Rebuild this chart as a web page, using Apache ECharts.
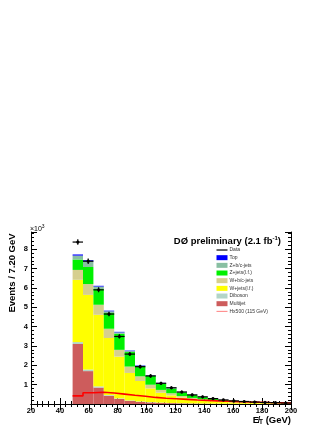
<!DOCTYPE html>
<html>
<head>
<meta charset="utf-8">
<script src="https://cdn.jsdelivr.net/npm/echarts@6/dist/echarts.min.js"></script>
<style>
html, body { margin: 0; padding: 0; background: #fff; }
#main { width: 332px; height: 430px; }
</style>
</head>
<body>
<div id="main"></div>
<script>
// bins: 21 bins of 7.20 GeV, last edge at 200
var binStart = 48.8;
var binWidth = 7.2;

// stacked backgrounds (events / bin), bottom to top
var multijet = [3100, 1700, 850, 420, 260, 160, 110, 80, 60, 45, 35, 26, 20, 15, 12, 9, 7, 5, 4, 3, 2];
var diboson  = [100, 80, 60, 40, 30, 25, 20, 17, 13, 10, 8, 6, 5, 4, 3, 3, 2, 2, 1, 1, 1];
var wjetsLF  = [3220, 3860, 3700, 2950, 2160, 1420, 1060, 710, 510, 390, 290, 220, 170, 130, 96, 76, 63, 51, 41, 33, 27];
var wjetsHF  = [510, 560, 520, 480, 350, 330, 240, 190, 145, 110, 80, 62, 48, 37, 28, 22, 18, 14, 12, 9, 8];
var zjetsLF  = [540, 880, 810, 810, 830, 750, 510, 450, 330, 250, 190, 150, 115, 87, 66, 53, 44, 35, 28, 22, 19];
var zjetsHF  = [200, 300, 130, 90, 70, 50, 40, 30, 22, 17, 13, 10, 8, 6, 5, 4, 3, 3, 2, 2, 2];
var topQuark = [60, 50, 40, 35, 30, 25, 20, 15, 12, 10, 8, 6, 5, 4, 3, 3, 2, 2, 2, 1, 1];

var dataPts  = [8370, 7380, 5900, 4650, 3490, 2580, 1930, 1450, 1070, 840, 620, 470, 370, 280, 210, 160, 130, 100, 80, 70, 50];
var signal   = [420, 580, 610, 570, 510, 450, 400, 340, 300, 270, 240, 210, 185, 160, 140, 120, 100, 90, 75, 65, 55];

var yTicks = [1, 2, 3, 4, 5, 6, 7, 8]; // x10^3

var layers = [
	{name: 'Multijet', values: multijet, color: '#cd5c5c'},
	{name: 'Diboson', values: diboson, color: '#b3d5c8'},
	{name: 'W+jets(l.f.)', values: wjetsLF, color: '#ffff00'},
	{name: 'W+b/c-jets', values: wjetsHF, color: '#d6cf8e'},
	{name: 'Z+jets(l.f.)', values: zjetsLF, color: '#00f000'},
	{name: 'Z+b/c-jets', values: zjetsHF, color: '#88bfa2'},
	{name: 'Top', values: topQuark, color: '#0000ff'}
];

var font = 'Liberation Sans, Arial, Helvetica, sans-serif';
var chart = echarts.init(document.getElementById('main'), null, {renderer: 'canvas'});

function renderBin(params, api) {
	var p0 = api.coord([api.value(0), api.value(3)]);
	var p1 = api.coord([api.value(1), api.value(2)]);
	return {
		type: 'rect',
		shape: {x: p0[0], y: p0[1], width: p1[0] - p0[0], height: p1[1] - p0[1]},
		style: {fill: api.visual('color')}
	};
}

function renderData(params, api) {
	var x = api.value(0), y = api.value(1), e = api.value(2);
	var l = api.coord([x - binWidth / 2, y]);
	var r = api.coord([x + binWidth / 2, y]);
	var lo = api.coord([x, y - e]);
	var hi = api.coord([x, y + e]);
	return {
		type: 'group',
		children: [
			{type: 'line', shape: {x1: l[0], y1: l[1], x2: r[0], y2: r[1]}, style: {stroke: '#000', lineWidth: 1.2}},
			{type: 'line', shape: {x1: lo[0], y1: lo[1] + 1, x2: hi[0], y2: hi[1] - 1}, style: {stroke: '#000', lineWidth: 1.2}},
			{type: 'circle', shape: {cx: l[0] + (r[0] - l[0]) / 2, cy: l[1], r: 1.6}, style: {fill: '#000'}}
		]
	};
}

// build stacked series
var series = [];
var base = multijet.map(function() { return 0; });
layers.forEach(function(layer) {
	var rows = [];
	layer.values.forEach(function(v, i) {
		var lo = binStart + i * binWidth;
		rows.push([lo, lo + binWidth, base[i], base[i] + v]);
		base[i] += v;
	});
	series.push({
		name: layer.name,
		type: 'custom',
		renderItem: renderBin,
		itemStyle: {color: layer.color},
		data: rows,
		clip: true,
		z: 2,
		silent: true
	});
});

// signal step line
var sigLine = signal.map(function(v, i) { return [binStart + i * binWidth, v]; });
sigLine.push([binStart + signal.length * binWidth, signal[signal.length - 1]]);
series.push({
	name: 'Hx500 (115 GeV)',
	type: 'line',
	step: 'end',
	data: sigLine,
	showSymbol: false,
	lineStyle: {color: '#ff0000', width: 1.6},
	z: 3,
	silent: true
});

// data points
series.push({
	name: 'Data',
	type: 'custom',
	renderItem: renderData,
	data: dataPts.map(function(v, i) { return [binStart + (i + 0.5) * binWidth, v, Math.sqrt(v)]; }),
	z: 4,
	silent: true
});

var axisCommon = {
	axisLine: {lineStyle: {color: '#000', width: 1}},
	axisTick: {inside: true, length: 6, lineStyle: {color: '#000'}},
	minorTick: {show: true, splitNumber: 5, length: 3, lineStyle: {color: '#000'}},
	splitLine: {show: false}
};

// legend drawn as graphics
var legendNames = ['Data', 'Top', 'Z+b/c-jets', 'Z+jets(l.f.)', 'W+b/c-jets', 'W+jets(l.f.)', 'Diboson', 'Multijet', 'Hx500 (115 GeV)'];
var legendColors = ['#000', '#0000ff', '#88bfa2', '#00f000', '#d6cf8e', '#ffff00', '#b3d5c8', '#cd5c5c', '#ff6060'];
var graphics = [];
legendNames.forEach(function(n, i) {
	var y = 250 + i * 7.67;
	if (n === 'Data' || n.indexOf('Hx500') === 0) {
		graphics.push({type: 'line', shape: {x1: 216.5, y1: y, x2: 227.5, y2: y}, style: {stroke: legendColors[i], lineWidth: n === 'Data' ? 1.2 : 0.8}});
	} else {
		graphics.push({type: 'rect', shape: {x: 216.5, y: y - 2.5, width: 11, height: 5}, style: {fill: legendColors[i]}});
	}
	graphics.push({type: 'text', x: 229.5, y: y, style: {text: n, font: '5px ' + font, fill: '#333', verticalAlign: 'middle'}});
});
graphics.push({
	type: 'text', x: 281, y: 241,
	style: {
		text: '{b|DØ preliminary (2.1 fb}{s|-1}{b|)}',
		align: 'right', verticalAlign: 'middle',
		rich: {
			b: {fontFamily: font, fontWeight: 'bold', fontSize: 9.5, fill: '#000'},
			s: {fontFamily: font, fontWeight: 'bold', fontSize: 6, fill: '#000', verticalAlign: 'top', padding: [0, 0, 5, 0]}
		}
	}
});
graphics.push({
	type: 'text', x: 12, y: 273, rotation: Math.PI / 2,
	style: {text: 'Events / 7.20 GeV', font: 'bold 9.5px ' + font, fill: '#000', align: 'center', verticalAlign: 'middle'}
});
graphics.push({
	type: 'text', x: 291, y: 420,
	style: {
		text: '{b|E\u0338}{t|T}{b| (GeV)}',
		align: 'right', verticalAlign: 'middle',
		rich: {
			b: {fontFamily: font, fontWeight: 'bold', fontSize: 9.5, fill: '#000'},
			t: {fontFamily: font, fontWeight: 'bold', fontSize: 6.5, fill: '#000', padding: [5, 0, 0, 0]}
		}
	}
});
graphics.push({
	type: 'text', x: 30, y: 229,
	style: {
		text: '{a|\u00d710}{s|3}',
		verticalAlign: 'middle',
		rich: {
			a: {fontFamily: font, fontSize: 7, fill: '#000'},
			s: {fontFamily: font, fontSize: 5, fill: '#000', padding: [0, 0, 4, 0]}
		}
	}
});

chart.setOption({
	backgroundColor: '#fff',
	animation: false,
	grid: {left: 31, right: 41, top: 232, bottom: 26},
	xAxis: [
		Object.assign({}, axisCommon, {
			type: 'value', min: 20, max: 200, interval: 20,
			axisLabel: {color: '#000', fontFamily: font, fontWeight: 'bold', fontSize: 7.5, margin: 3}
		}),
		Object.assign({}, axisCommon, {
			type: 'value', position: 'top', min: 20, max: 200, interval: 20,
			axisLabel: {show: false}
		})
	],
	yAxis: [
		Object.assign({}, axisCommon, {
			type: 'value', min: 0, max: 8890, interval: 1000,
			axisLabel: {
				color: '#000', fontFamily: font, fontWeight: 'bold', fontSize: 7.5, margin: 3,
				formatter: function(v) {
					var k = v / 1000;
					return yTicks.indexOf(k) >= 0 ? String(k) : '';
				}
			}
		}),
		Object.assign({}, axisCommon, {
			type: 'value', position: 'right', min: 0, max: 8890, interval: 1000,
			axisLabel: {show: false}
		})
	],
	graphic: graphics,
	series: series
});
</script>
</body>
</html>
